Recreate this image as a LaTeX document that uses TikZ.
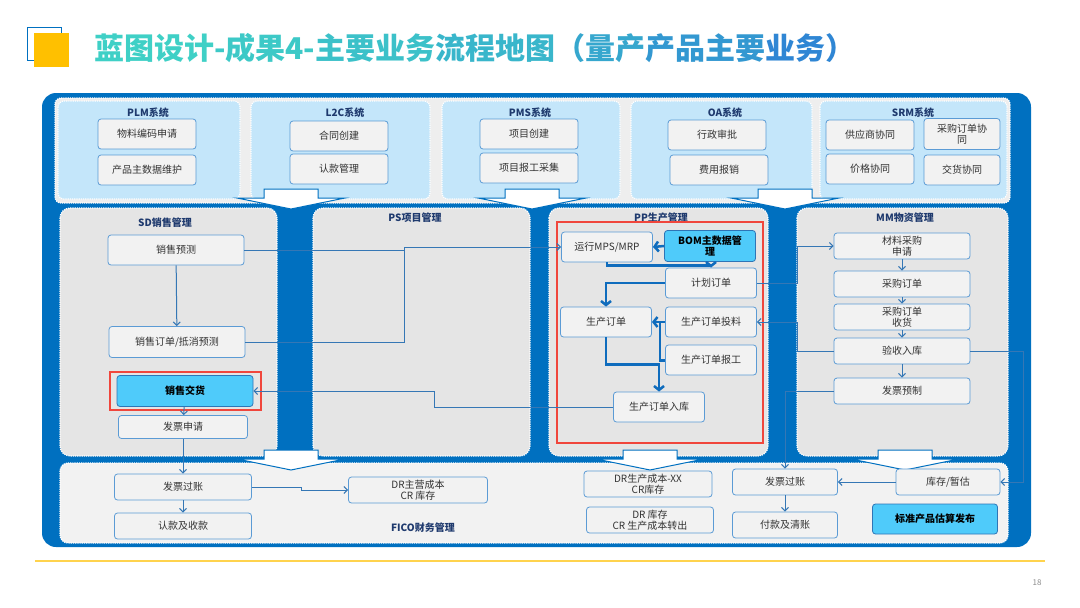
\documentclass[tikz,border=0pt]{standalone}
\usepackage{fontspec}
\setmainfont{Noto Sans CJK SC}
\usepackage{tikz}
\usetikzlibrary{arrows.meta,calc,positioning}
\usepackage{xcolor}
\definecolor{framebl}{HTML}{0070C0}
\definecolor{topbg}{HTML}{EEEEEE}
\definecolor{skyp}{HTML}{C4E6FA}
\definecolor{midp}{HTML}{E5E5E5}
\definecolor{ficop}{HTML}{F2F2F2}
\definecolor{boxfl}{HTML}{F2F2F2}
\definecolor{boxln}{HTML}{5B9BD5}
\definecolor{keycyan}{HTML}{4FCBFA}
\definecolor{keyln}{HTML}{2E75B6}
\definecolor{navy}{HTML}{1F3A6E}
\definecolor{wire}{HTML}{3577B5}
\definecolor{flowc}{HTML}{0F6CBD}
\definecolor{redc}{HTML}{F0463C}
\definecolor{gold}{HTML}{FFD34D}
\definecolor{goldsq}{HTML}{FFC000}
\definecolor{ttlA}{HTML}{3FD0C6}
\definecolor{ttlB}{HTML}{2F86D4}

\begin{document}
\begin{tikzpicture}[
  x=1pt,y=-1pt,
  font=\fontsize{10}{10.5}\selectfont,
  panel/.style={draw=white,densely dotted,line width=1.2pt,rounded corners=8pt},
  blockarr/.style={fill=white,draw=framebl,line width=1pt,line join=miter},
  ttl/.style={font=\bfseries\fontsize{10}{10.5}\selectfont,text=navy},
  box/.style={draw=boxln,fill=boxfl,rounded corners=3pt,line width=0.8pt,
              align=center,inner sep=1pt,text=black!80},
  keybox/.style={box,fill=keycyan,draw=keyln,text=black,
                 font=\bfseries\fontsize{10}{10.5}\selectfont},
  edge/.style={-{Straight Barb[length=3.5pt,width=7pt]},draw=wire,line width=1pt},
  wireline/.style={draw=wire,line width=1pt},
  flow/.style={-{Straight Barb[length=4pt,width=10pt]},draw=flowc,line width=2.5pt},
  flowline/.style={draw=flowc,line width=2.5pt},
  redframe/.style={draw=redc,line width=1.6pt}
]
\useasboundingbox (0,0) rectangle (1080,608);
\fill[white] (0,0) rectangle (1080,608);

% title
\draw[framebl,line width=0.8pt] (27,27) rectangle (61,60);
\fill[goldsq] (34,33) rectangle (69,67);
\node[anchor=west,font=\bfseries\fontsize{30}{33}\selectfont,inner sep=0pt] (title) at (94,48)
  {\textcolor{ttlB!0!ttlA}{蓝图设计}\textcolor{ttlB!10!ttlA}{-成果4-}\textcolor{ttlB!20!ttlA}{主要业务}\textcolor{ttlB!35!ttlA}{流程地图}\textcolor{ttlB!55!ttlA}{（量产}\textcolor{ttlB!75!ttlA}{产品主要}\textcolor{ttlB!100!ttlA}{业务）}};

% frame and panels
\fill[framebl,rounded corners=14pt] (42,93) rectangle (1031,547);
\filldraw[panel,fill=topbg,rounded corners=6pt] (55,98) rectangle (1010,203);
\foreach \xa/\xb in {58/240,251/430,442/620,631/812,820/1007}
  \filldraw[panel,fill=skyp,rounded corners=6pt] (\xa,101) rectangle (\xb,199);
\foreach \xa/\xb in {60/277,313/530,549/768,797/1008}
  \filldraw[panel,fill=midp,rounded corners=10pt] (\xa,208) rectangle (\xb,456);
\filldraw[panel,fill=ficop] (60,463) rectangle (1008,543);

% block arrows
\foreach \cx/\cy in {291/189,532/189,785/189,291/450,650/450,905/450}
  \draw[blockarr] (\cx-27,\cy) -- (\cx+27,\cy) -- (\cx+27,\cy+9) -- (\cx+54,\cy+9)
    -- (\cx,\cy+20) -- (\cx-54,\cy+9) -- (\cx-27,\cy+9) -- cycle;

% system titles
\node[ttl] (plmt) at (148,113) {PLM系统};
\node[ttl] (l2ct) at (345,113) {L2C系统};
\node[ttl] (pmst) at (530,113) {PMS系统};
\node[ttl] (oat) at (725,113) {OA系统};
\node[ttl] (srmt) at (913,113) {SRM系统};
\node[ttl] (sdt) at (165,223) {SD销售管理};
\node[ttl] (pst) at (415,218) {PS项目管理};
\node[ttl] (ppt) at (661,218) {PP生产管理};
\node[ttl] (mmt) at (905,218) {MM物资管理};
\node[ttl] (ficot) at (423,528) {FICO财务管理};

% top systems
\node[box,minimum width=98pt,minimum height=30pt] (matcode) at (147,134) {物料编码申请};
\node[box,minimum width=98pt,minimum height=30pt] (prodmd) at (147,170) {产品主数据维护};
\node[box,minimum width=98pt,minimum height=30pt] (contract) at (339,136) {合同创建};
\node[box,minimum width=98pt,minimum height=30pt] (claim) at (339,169) {认款管理};
\node[box,minimum width=98pt,minimum height=30pt] (projnew) at (529,134) {项目创建};
\node[box,minimum width=98pt,minimum height=30pt] (projrep) at (529,168) {项目报工采集};
\node[box,minimum width=98pt,minimum height=30pt] (approve) at (717,135) {行政审批};
\node[box,minimum width=98pt,minimum height=30pt] (expense) at (719,170) {费用报销};
\node[box,minimum width=88pt,minimum height=30pt] (supco) at (870,135) {供应商协同};
\node[box,minimum width=76pt,minimum height=31pt] (poco) at (962,134) {采购订单协\\同};
\node[box,minimum width=88pt,minimum height=30pt] (priceco) at (870,169) {价格协同};
\node[box,minimum width=76pt,minimum height=30pt] (delco) at (962,170) {交货协同};

% SD
\node[box,minimum width=136pt,minimum height=30pt] (sdfc) at (176,250) {销售预测};
\node[box,minimum width=136pt,minimum height=31pt] (sdord) at (177,342) {销售订单/抵消预测};
\node[keybox,minimum width=136pt,minimum height=31pt] (sddel) at (185,391) {销售交货};
\node[box,minimum width=129pt,minimum height=23pt] (sdinv) at (183,427) {发票申请};

% PP
\node[box,minimum width=91pt,minimum height=30pt] (mps) at (607,247) {运行MPS/MRP};
\node[keybox,minimum width=91pt,minimum height=31pt] (bom) at (710,246) {BOM主数据管\\理};
\node[box,minimum width=91pt,minimum height=30pt] (plan) at (711,283) {计划订单};
\node[box,minimum width=91pt,minimum height=30pt] (prod) at (606,322) {生产订单};
\node[box,minimum width=91pt,minimum height=30pt] (feed) at (711,322) {生产订单投料};
\node[box,minimum width=91pt,minimum height=30pt] (rep) at (711,360) {生产订单报工};
\node[box,minimum width=91pt,minimum height=30pt] (ppin) at (659,407) {生产订单入库};

% MM
\node[box,minimum width=136pt,minimum height=26pt] (matreq) at (902,246) {材料采购\\申请};
\node[box,minimum width=136pt,minimum height=26pt] (po) at (902,284) {采购订单};
\node[box,minimum width=136pt,minimum height=26pt] (porec) at (902,317) {采购订单\\收货};
\node[box,minimum width=136pt,minimum height=26pt] (gr) at (902,351) {验收入库};
\node[box,minimum width=136pt,minimum height=26pt] (invpre) at (902,391) {发票预制};

% FICO
\node[box,minimum width=137pt,minimum height=26pt] (fipost) at (183,487) {发票过账};
\node[box,minimum width=137pt,minimum height=26pt] (ficash) at (183,526) {认款及收款};
\node[box,minimum width=139pt,minimum height=26pt] (drcogs) at (418,490) {DR主营成本\\CR 库存};
\node[box,minimum width=128pt,minimum height=26pt] (drwip) at (648,484) {DR生产成本-XX\\CR库存};
\node[box,minimum width=127pt,minimum height=26pt] (drinv) at (650,520) {DR 库存\\CR 生产成本转出};
\node[box,minimum width=105pt,minimum height=26pt] (apost) at (785,482) {发票过账};
\node[box,minimum width=105pt,minimum height=26pt] (pay) at (785,525) {付款及清账};
\node[box,minimum width=104pt,minimum height=26pt] (stock) at (948,482) {库存/暂估};
\node[keybox,minimum width=125pt,minimum height=30pt] (stdcost) at (935,519) {标准产品估算发布};

% red frames
\draw[redframe] (110,372) rectangle (261,410);
\draw[redframe] (557,222) rectangle (763,443);

% jog points
\coordinate (psjog) at (404,0);
\coordinate (psjogb) at (434,0);
\coordinate (fijog) at (301,0);
\coordinate (mmjog) at (797,0);
\coordinate (rtjog) at (1023,0);

% connectors
\draw[edge] (sdfc) -- (sdord);
\draw[edge] (sddel) -- (sdinv);
\draw[edge] (sdinv) -- (fipost);
\draw[edge] (fipost) -- (ficash);
\draw[edge] (sdfc.east) -- (sdfc.east -| psjog) |- (mps.west);
\draw[wireline] (sdord.east) -| (psjog |- mps.west);
\draw[edge] (ppin.west) -- (ppin.west -| psjogb) |- (sddel.east);
\draw[edge] (fipost.east) -- (fipost.east -| fijog) |- (drcogs.west);

\draw[flow] (bom.west) -- (mps.east);
\draw[flow] (mps.south) -- ++(0,3) -| (plan.north);
\draw[flow] (plan.west) -| (prod.north);
\draw[flow] (feed.west) -- (prod.east);
\draw[flowline] ([yshift=-0.5pt]rep.west) -| ([xshift=-5pt]feed.west);
\draw[flow] (prod.south) -- ++(0,27) -| (ppin.north);

\draw[edge] (plan.east) -- (plan.east -| mmjog) |- (matreq.west);
\draw[edge] (gr.west) -- (gr.west -| mmjog) |- (feed.east);
\draw[edge] (matreq) -- (po);
\draw[edge] (po) -- (porec);
\draw[edge] (porec) -- (gr);
\draw[edge] (gr) -- (invpre);
\draw[edge] (gr.east) -- (gr.east -| rtjog) |- (stock.east);
\draw[edge] (invpre.west) -| (apost.north);
\draw[edge] (stock) -- (apost);
\draw[edge] (apost) -- (pay);

% footer
\draw[gold,line width=2.5pt] (35,561) -- (1045,561);
\node[text=black!45,font=\fontsize{8}{9}\selectfont] (pgno) at (1037,583) {18};
\end{tikzpicture}
\end{document}
